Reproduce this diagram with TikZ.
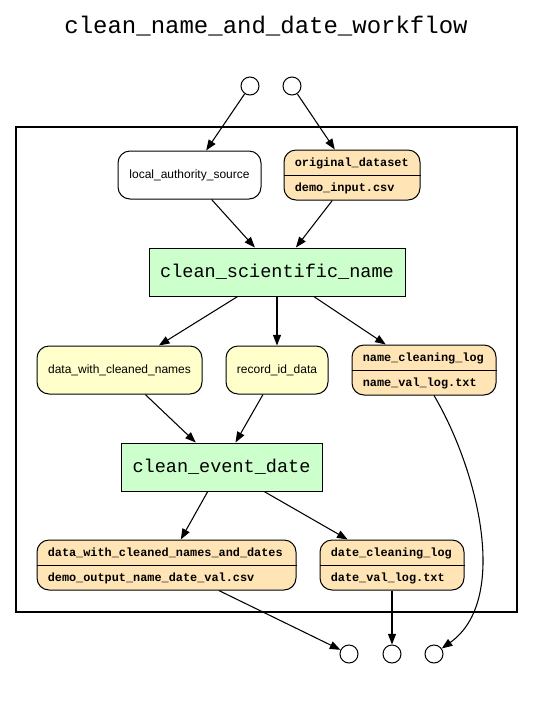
\documentclass[tikz,border=0pt]{standalone}
\usepackage{fontspec}
\newfontfamily\cour{Liberation Mono}
\newfontfamily\helv{Liberation Sans}
\usetikzlibrary{arrows.meta,calc}
\definecolor{procgreen}{HTML}{CCFFCC}
\definecolor{datayellow}{HTML}{FFFFCC}
\definecolor{fileorange}{HTML}{FFE4B5}
\tikzset{
  io/.style={circle,draw,line width=0.75pt,minimum size=13.5pt,inner sep=0pt},
  proc/.style={rectangle,draw,line width=0.75pt,fill=procgreen,minimum height=36pt,inner sep=0pt,font=\cour\fontsize{13.9}{16}\selectfont},
  datanode/.style={rectangle,rounded corners=9pt,draw,line width=0.75pt,fill=datayellow,minimum height=36pt,inner sep=0pt,font=\helv\fontsize{9}{11}\selectfont},
  recbox/.style={rectangle,rounded corners=9pt,draw,line width=0.75pt,fill=fileorange,minimum height=37.5pt,inner sep=0pt},
  rectext/.style={anchor=west,inner sep=0pt,font=\cour\bfseries\fontsize{8.9}{10}\selectfont},
  edge/.style={line width=0.8pt,-{Triangle[length=8pt,width=6pt]}},
  frame/.style={line width=1.6pt}
}
\begin{document}
\begin{tikzpicture}[x=0.75pt,y=-0.75pt]
\useasboundingbox (0,0) rectangle (533,701);
\node[font=\cour\fontsize{18}{20}\selectfont] (title) at (266,26) {clean\_name\_and\_date\_workflow};
\draw[frame] (16,127) rectangle (517,612);

\node[io] (in1) at (250,86) {};
\node[io] (in2) at (292,86) {};

\node[datanode,fill=white,minimum width=107.25pt] (las) at (189.5,175) {local\_authority\_source};
\node[recbox,minimum width=102pt] (od) at (352,175) {};
\draw[line width=0.75pt] (od.west) -- (od.east);
\node[rectext] (odt) at ($(od.west)+(11,-12)$) {original\_dataset};
\node[rectext] (odf) at ($(od.west)+(11,13)$) {demo\_input.csv};

\node[proc,minimum width=192pt] (csn) at (277,272) {clean\_scientific\_name};

\node[datanode,minimum width=123.75pt] (dwcn) at (119.5,370) {data\_with\_cleaned\_names};
\node[datanode,minimum width=76.5pt] (rid) at (277,370) {record\_id\_data};
\node[recbox,minimum width=108pt] (ncl) at (424,370) {};
\draw[line width=0.75pt] (ncl.west) -- (ncl.east);
\node[rectext] (nclt) at ($(ncl.west)+(11,-12)$) {name\_cleaning\_log};
\node[rectext] (nclf) at ($(ncl.west)+(11,13)$) {name\_val\_log.txt};

\node[proc,minimum width=150.75pt] (ced) at (221.5,467) {clean\_event\_date};

\node[recbox,minimum width=194.25pt] (dwcnad) at (166.5,565) {};
\draw[line width=0.75pt] (dwcnad.west) -- (dwcnad.east);
\node[rectext] (dwcnadt) at ($(dwcnad.west)+(11,-12)$) {data\_with\_cleaned\_names\_and\_dates};
\node[rectext] (dwcnadf) at ($(dwcnad.west)+(11,13)$) {demo\_output\_name\_date\_val.csv};
\node[recbox,minimum width=108pt] (dcl) at (392,565) {};
\draw[line width=0.75pt] (dcl.west) -- (dcl.east);
\node[rectext] (dclt) at ($(dcl.west)+(11,-12)$) {date\_cleaning\_log};
\node[rectext] (dclf) at ($(dcl.west)+(11,13)$) {date\_val\_log.txt};

\node[io] (out1) at (349,654) {};
\node[io] (out2) at (392,654) {};
\node[io] (out3) at (434,654) {};

\draw[edge] (in1) -- (las);
\draw[edge] (in2) -- (od);
\draw[edge] (las) -- (csn);
\draw[edge] (od) -- (csn);
\draw[edge] (csn) -- (dwcn);
\draw[edge] (csn) -- (rid);
\draw[edge] (csn) -- (ncl);
\draw[edge] (dwcn) -- (ced);
\draw[edge] (rid) -- (ced);
\draw[edge] (ced) -- (dwcnad);
\draw[edge] (ced) -- (dcl);
\draw[edge] (dwcnad) -- (out1);
\draw[edge] (dcl) -- (out2);
\draw[edge] ($(ncl.south)+(10,0)$) .. controls (478,470) and (510,600) .. (out3);
\end{tikzpicture}
\end{document}
